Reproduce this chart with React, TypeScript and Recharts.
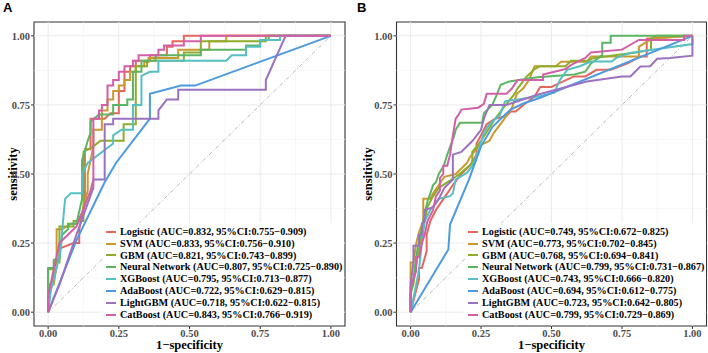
import React from 'react';
import {
  LineChart,
  Line,
  XAxis,
  YAxis,
  ReferenceLine,
  ReferenceArea,
  Legend,
} from 'recharts';

type Pt = [number, number];

const models = ['Logistic', 'SVM', 'GBM', 'Neural Network', 'XGBoost', 'AdaBoost', 'LightGBM', 'CatBoost'];
const colors = ['#E4675E', '#C99A2E', '#8DAD2B', '#5CB562', '#56BFC4', '#4C9BE0', '#9A72C0', '#D35FA8'];

const aucA = [0.832, 0.833, 0.821, 0.807, 0.795, 0.722, 0.718, 0.843];
const ciLowA = [0.755, 0.756, 0.743, 0.725, 0.713, 0.629, 0.622, 0.766];
const ciHighA = [0.909, 0.91, 0.899, 0.89, 0.877, 0.815, 0.815, 0.919];

const aucB = [0.749, 0.773, 0.768, 0.799, 0.743, 0.694, 0.723, 0.799];
const ciLowB = [0.672, 0.702, 0.694, 0.731, 0.666, 0.612, 0.642, 0.729];
const ciHighB = [0.825, 0.845, 0.841, 0.867, 0.82, 0.775, 0.805, 0.869];

const majorTicks = [0, 0.25, 0.5, 0.75, 1];
const gridSteps = [0, 0.125, 0.25, 0.375, 0.5, 0.625, 0.75, 0.875, 1];

// ROC points as [1-specificity, sensitivity]
const logisticA: Pt[] = [[0,0],[0,0.04],[0.02,0.14],[0.02,0.16],[0.04,0.2],[0.04,0.23],[0.09,0.25],[0.11,0.25],[0.11,0.3],[0.13,0.4],[0.13,0.59],[0.15,0.59],[0.15,0.7],[0.2,0.7],[0.22,0.72],[0.25,0.72],[0.25,0.8],[0.27,0.8],[0.27,0.87],[0.29,0.87],[0.29,0.89],[0.31,0.89],[0.31,0.91],[0.36,0.91],[0.36,0.93],[0.42,0.93],[0.42,0.96],[0.44,0.96],[0.44,0.98],[0.48,0.98],[0.48,1],[1,1]];
const svmA: Pt[] = [[0,0],[0,0.1],[0.02,0.1],[0.03,0.17],[0.03,0.3],[0.05,0.3],[0.08,0.32],[0.1,0.32],[0.12,0.36],[0.14,0.44],[0.14,0.5],[0.16,0.6],[0.16,0.66],[0.19,0.66],[0.19,0.73],[0.21,0.73],[0.21,0.77],[0.23,0.77],[0.23,0.8],[0.25,0.8],[0.25,0.82],[0.27,0.82],[0.27,0.84],[0.29,0.84],[0.29,0.87],[0.31,0.87],[0.31,0.89],[0.34,0.89],[0.34,0.905],[0.355,0.905],[0.355,0.92],[0.46,0.92],[0.46,0.95],[0.57,0.95],[0.57,0.98],[0.63,0.98],[0.63,1],[1,1]];
const gbmA: Pt[] = [[0,0],[0,0.155],[0.02,0.155],[0.02,0.18],[0.04,0.18],[0.04,0.31],[0.09,0.31],[0.09,0.33],[0.125,0.33],[0.125,0.58],[0.16,0.6],[0.185,0.62],[0.267,0.62],[0.267,0.68],[0.31,0.68],[0.31,0.89],[0.35,0.89],[0.35,0.91],[0.48,0.91],[0.48,0.94],[0.54,0.94],[0.54,0.98],[0.77,0.98],[0.77,1],[1,1]];
const nnA: Pt[] = [[0,0],[0,0.16],[0.02,0.16],[0.02,0.19],[0.04,0.19],[0.05,0.28],[0.07,0.3],[0.07,0.32],[0.1,0.32],[0.12,0.41],[0.12,0.55],[0.14,0.62],[0.15,0.65],[0.15,0.69],[0.18,0.715],[0.23,0.715],[0.23,0.75],[0.28,0.75],[0.28,0.77],[0.3,0.77],[0.3,0.87],[0.33,0.87],[0.33,0.91],[0.38,0.91],[0.38,0.93],[0.54,0.93],[0.54,0.95],[0.7,0.95],[0.7,0.965],[0.75,0.965],[0.75,0.985],[0.78,0.985],[0.78,1],[1,1]];
const xgbA: Pt[] = [[0,0],[0.01,0.08],[0.04,0.2],[0.05,0.3],[0.06,0.41],[0.08,0.43],[0.12,0.43],[0.12,0.5],[0.14,0.54],[0.23,0.61],[0.23,0.64],[0.26,0.66],[0.3,0.66],[0.3,0.75],[0.33,0.75],[0.33,0.855],[0.36,0.87],[0.39,0.87],[0.39,0.91],[0.63,0.91],[0.65,0.93],[0.7,0.93],[0.7,0.96],[0.75,0.96],[0.75,0.985],[0.82,0.985],[0.82,1],[1,1]];
const adaA: Pt[] = [[0,0],[0.1,0.26],[0.2,0.47],[0.24,0.54],[0.36,0.7],[0.36,0.79],[0.47,0.82],[0.52,0.82],[1,1]];
const lgbmA: Pt[] = [[0,0],[0.04,0.1],[0.1,0.28],[0.16,0.45],[0.16,0.48],[0.2,0.48],[0.2,0.68],[0.23,0.68],[0.23,0.7],[0.39,0.7],[0.39,0.73],[0.42,0.77],[0.46,0.77],[0.46,0.805],[0.77,0.805],[0.77,0.84],[0.84,1],[1,1]];
const catA: Pt[] = [[0,0],[0,0.06],[0.04,0.25],[0.1,0.31],[0.12,0.36],[0.15,0.44],[0.16,0.48],[0.16,0.7],[0.18,0.7],[0.18,0.73],[0.19,0.73],[0.19,0.75],[0.21,0.75],[0.21,0.82],[0.23,0.82],[0.23,0.84],[0.25,0.84],[0.25,0.87],[0.27,0.87],[0.27,0.89],[0.3,0.89],[0.3,0.91],[0.32,0.91],[0.32,0.93],[0.39,0.93],[0.39,0.95],[0.41,0.95],[0.41,0.965],[0.48,0.965],[0.48,0.98],[0.54,0.98],[0.54,1],[1,1]];

const logisticB: Pt[] = [[0,0],[0.02,0.08],[0.03,0.12],[0.03,0.16],[0.04,0.16],[0.057,0.22],[0.057,0.28],[0.07,0.33],[0.09,0.37],[0.11,0.4],[0.13,0.43],[0.15,0.46],[0.18,0.5],[0.21,0.53],[0.234,0.57],[0.234,0.61],[0.25,0.64],[0.27,0.68],[0.3,0.7],[0.34,0.71],[0.355,0.726],[0.373,0.726],[0.4,0.75],[0.44,0.78],[0.46,0.815],[0.5,0.815],[0.53,0.83],[0.58,0.853],[0.62,0.853],[0.66,0.877],[0.71,0.877],[0.77,0.9],[0.814,0.925],[0.838,0.925],[0.838,0.99],[1,1]];
const svmB: Pt[] = [[0,0],[0,0.18],[0.01,0.18],[0.02,0.25],[0.03,0.29],[0.045,0.33],[0.045,0.41],[0.07,0.41],[0.08,0.43],[0.1,0.46],[0.12,0.49],[0.16,0.5],[0.2,0.54],[0.21,0.56],[0.24,0.6],[0.28,0.62],[0.296,0.65],[0.33,0.696],[0.36,0.74],[0.377,0.79],[0.4,0.81],[0.42,0.84],[0.44,0.89],[0.515,0.89],[0.534,0.906],[0.626,0.906],[0.64,0.925],[0.81,0.925],[0.81,0.96],[0.84,0.98],[0.86,0.99],[1,1]];
const gbmB: Pt[] = [[0,0],[0,0.07],[0.01,0.1],[0.02,0.17],[0.03,0.23],[0.04,0.28],[0.05,0.33],[0.06,0.38],[0.08,0.42],[0.1,0.45],[0.13,0.47],[0.16,0.49],[0.18,0.505],[0.219,0.54],[0.219,0.58],[0.25,0.62],[0.3,0.7],[0.33,0.74],[0.367,0.787],[0.38,0.81],[0.41,0.85],[0.44,0.88],[0.46,0.89],[0.55,0.89],[0.57,0.91],[0.63,0.91],[0.65,0.92],[0.8,0.94],[0.853,0.95],[0.853,0.99],[0.87,1],[1,1]];
const nnB: Pt[] = [[0,0],[0,0.06],[0.01,0.12],[0.02,0.2],[0.03,0.26],[0.04,0.3],[0.05,0.36],[0.06,0.4],[0.07,0.43],[0.08,0.46],[0.09,0.47],[0.1,0.5],[0.118,0.53],[0.13,0.57],[0.154,0.636],[0.16,0.66],[0.175,0.685],[0.254,0.685],[0.26,0.72],[0.29,0.75],[0.306,0.787],[0.32,0.823],[0.35,0.835],[0.45,0.85],[0.58,0.86],[0.62,0.87],[0.64,0.9],[0.68,0.93],[0.68,0.975],[0.71,0.975],[0.71,1],[1,1]];
const xgbB: Pt[] = [[0,0],[0.02,0.1],[0.03,0.155],[0.04,0.25],[0.05,0.33],[0.07,0.37],[0.1,0.41],[0.14,0.42],[0.15,0.43],[0.16,0.48],[0.2,0.505],[0.22,0.53],[0.246,0.6],[0.26,0.65],[0.28,0.68],[0.317,0.714],[0.335,0.763],[0.38,0.77],[0.45,0.78],[0.51,0.794],[0.512,0.8],[0.53,0.84],[0.556,0.877],[0.6,0.89],[0.64,0.907],[0.714,0.907],[0.73,0.92],[0.775,0.937],[0.814,0.943],[1,0.97],[1,1]];
const adaB: Pt[] = [[0,0],[0.134,0.227],[0.14,0.317],[0.207,0.48],[0.25,0.6],[0.29,0.67],[0.32,0.7],[0.355,0.733],[0.4,0.755],[0.46,0.776],[1,1]];
const lgbmB: Pt[] = [[0,0],[0,0.1],[0.01,0.18],[0.01,0.24],[0.03,0.24],[0.03,0.28],[0.04,0.28],[0.04,0.32],[0.05,0.33],[0.05,0.37],[0.08,0.38],[0.1,0.41],[0.12,0.45],[0.15,0.48],[0.15,0.57],[0.18,0.58],[0.22,0.62],[0.25,0.66],[0.26,0.7],[0.28,0.75],[0.34,0.75],[0.45,0.787],[0.625,0.835],[0.75,0.853],[0.78,0.853],[0.815,0.889],[0.85,0.89],[0.875,0.917],[0.92,0.92],[1,0.928],[1,1]];
const catB: Pt[] = [[0,0],[0,0.09],[0.01,0.12],[0.02,0.15],[0.02,0.2],[0.03,0.2],[0.04,0.25],[0.05,0.28],[0.06,0.33],[0.08,0.37],[0.09,0.42],[0.104,0.44],[0.104,0.485],[0.116,0.5],[0.116,0.53],[0.13,0.53],[0.14,0.57],[0.15,0.64],[0.16,0.7],[0.17,0.714],[0.18,0.733],[0.24,0.74],[0.26,0.754],[0.27,0.79],[0.34,0.79],[0.36,0.81],[0.38,0.84],[0.47,0.84],[0.47,0.86],[0.55,0.88],[0.57,0.895],[0.62,0.92],[0.64,0.94],[0.75,0.95],[0.81,0.985],[0.97,0.985],[0.97,1],[1,1]];

const curvesA = [logisticA, svmA, gbmA, nnA, xgbA, adaA, lgbmA, catA];
const curvesB = [logisticB, svmB, gbmB, nnB, xgbB, adaB, lgbmB, catB];

const serif = "'Liberation Serif', 'Times New Roman', serif";
const tickStyle = { fill: '#4D4D4D', fontSize: 10.5, fontWeight: 700, fontFamily: serif };
const fmt = (v: number) => v.toFixed(2);
const toPts = (arr: Pt[]) => arr.map(([x, y]) => ({ x, y }));

const ROW_H = 11.86;

interface PanelProps {
  tag: string;
  left: number;
  curves: Pt[][];
  auc: number[];
  lo: number[];
  hi: number[];
  yAxisWidth: number;
  rightMargin: number;
  legendLeft: number;
  yTitleX: number;
}

const RocPanel: React.FC<PanelProps> = ({ tag, left, curves, auc, lo, hi, yAxisWidth, rightMargin, legendLeft, yTitleX }) => {
  const plotW = 354 - yAxisWidth - rightMargin;
  const xTitleX = yAxisWidth + plotW / 2;
  const legendW = 354 - rightMargin - legendLeft - 1;

  return (
    <div style={{ position: 'absolute', left, top: 0, width: 354, height: 353 }}>
      <LineChart width={354} height={353} margin={{ top: 22, right: rightMargin, bottom: 0, left: 0 }}>
        {gridSteps.map(v => (
          <ReferenceLine key={'gx' + v} x={v} stroke={v * 4 % 1 === 0 ? '#EBEBEB' : '#F4F4F4'} strokeWidth={v * 4 % 1 === 0 ? 1 : 0.6} />
        ))}
        {gridSteps.map(v => (
          <ReferenceLine key={'gy' + v} y={v} stroke={v * 4 % 1 === 0 ? '#EBEBEB' : '#F4F4F4'} strokeWidth={v * 4 % 1 === 0 ? 1 : 0.6} />
        ))}
        <XAxis
          type="number"
          dataKey="x"
          domain={[-0.05, 1.05]}
          ticks={majorTicks}
          tickFormatter={fmt}
          allowDataOverflow
          axisLine={false}
          tickLine={{ stroke: '#333' }}
          tickSize={3}
          tickMargin={1}
          height={27}
          tick={tickStyle}
          label={() => (
            <text x={xTitleX} y={349} textAnchor="middle" fontFamily={serif} fontWeight={700} fontSize={12.5} fill="#000">
              1−specificity
            </text>
          )}
        />
        <YAxis
          type="number"
          dataKey="y"
          domain={[-0.05, 1.05]}
          ticks={majorTicks}
          tickFormatter={fmt}
          allowDataOverflow
          axisLine={false}
          tickLine={{ stroke: '#333' }}
          tickSize={3}
          tickMargin={1}
          width={yAxisWidth}
          tick={tickStyle}
          label={() => (
            <text
              x={yTitleX}
              y={174}
              textAnchor="middle"
              dominantBaseline="central"
              transform={`rotate(-90, ${yTitleX}, 174)`}
              fontFamily={serif}
              fontWeight={700}
              fontSize={12.5}
              fill="#000"
            >
              sensitivity
            </text>
          )}
        />
        <ReferenceLine
          segment={[{ x: 0, y: 0 }, { x: 1, y: 1 }]}
          stroke="#A6A6A6"
          strokeWidth={0.8}
          strokeDasharray="4 2 1 2"
        />
        {curves.map((c, i) => (
          <Line
            key={models[i]}
            name={models[i]}
            data={toPts(c)}
            dataKey="y"
            type="linear"
            stroke={colors[i]}
            strokeWidth={2}
            dot={false}
            activeDot={false}
            isAnimationActive={false}
          />
        ))}
        <ReferenceArea x1={-0.05} x2={1.05} y1={-0.05} y2={1.05} fill="none" stroke="#333" strokeWidth={1.1} ifOverflow="visible" />
        <Legend
          layout="vertical"
          align="center"
          verticalAlign="middle"
          wrapperStyle={{ left: legendLeft, top: 222.8, width: legendW, height: ROW_H * 8 + 6, background: '#fff' }}
          content={() => (
            <div style={{ padding: '3px 0 3px 3px' }}>
              {models.map((m, i) => (
                <div
                  key={m}
                  style={{
                    height: ROW_H,
                    lineHeight: `${ROW_H}px`,
                    whiteSpace: 'nowrap',
                    fontFamily: serif,
                    fontWeight: 700,
                    fontSize: 10.2,
                    color: '#000',
                    display: 'flex',
                    alignItems: 'center',
                  }}
                >
                  <span style={{ display: 'inline-block', width: 10, height: 2, background: colors[i], marginRight: 4 }} />
                  <span>{`${m} (AUC=${auc[i].toFixed(3)}, 95%CI:${lo[i].toFixed(3)}−${hi[i].toFixed(3)})`}</span>
                </div>
              ))}
            </div>
          )}
        />
      </LineChart>
      <div
        style={{
          position: 'absolute',
          left: 3,
          top: 1,
          fontFamily: "'Liberation Sans', Arial, sans-serif",
          fontWeight: 700,
          fontSize: 13,
          lineHeight: '13px',
        }}
      >
        {tag}
      </div>
    </div>
  );
};

export default function App() {
  return (
    <div style={{ position: 'absolute', left: 0, top: 0, width: 708, height: 353, background: '#fff' }}>
      <RocPanel tag="A" left={0} curves={curvesA} auc={aucA} lo={ciLowA} hi={ciHighA} yAxisWidth={34} rightMargin={9} legendLeft={103} yTitleX={13} />
      <RocPanel tag="B" left={354} curves={curvesB} auc={aucB} lo={ciLowB} hi={ciHighB} yAxisWidth={42.5} rightMargin={1.5} legendLeft={111} yTitleX={14} />
    </div>
  );
}
